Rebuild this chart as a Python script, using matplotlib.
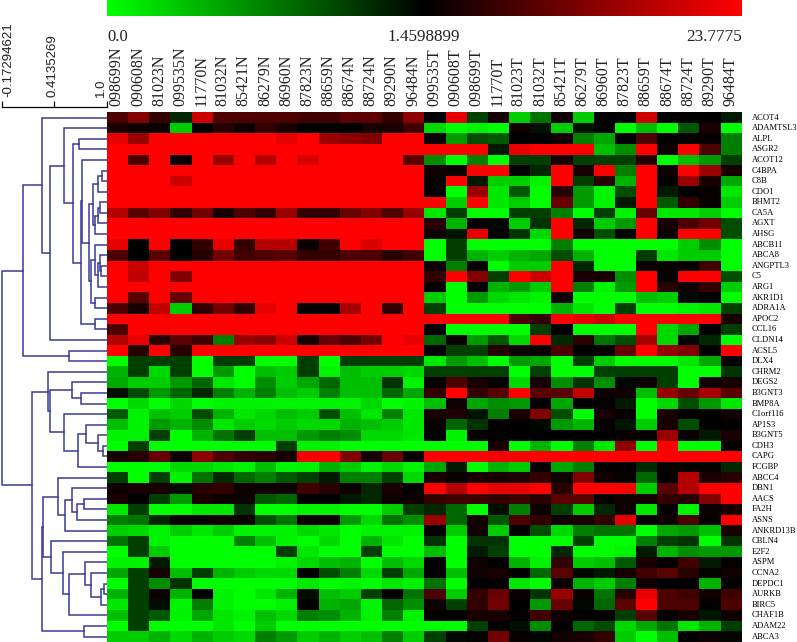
import numpy as np
import matplotlib
matplotlib.use('Agg')
import matplotlib.pyplot as plt
from matplotlib.colors import LinearSegmentedColormap

plt.rcParams['font.family'] = ['Liberation Serif', 'DejaVu Serif']

W, H = 797, 642

samples = ['098699N', '090608N', '81023N', '099535N', '11770N', '81032N', '85421N', '86279N',
           '86960N', '87823N', '88659N', '88674N', '88724N', '89290N', '96484N',
           '099535T', '090608T', '098699T', '11770T', '81023T', '81032T', '85421T', '86279T',
           '86960T', '87823T', '88659T', '88674T', '88724T', '89290T', '96484T']

genes = ['ACOT4', 'ADAMTSL3', 'ALPL', 'ASGR2', 'ACOT12', 'C4BPA', 'C8B', 'CDO1', 'BHMT2', 'CA5A',
         'AGXT', 'AHSG', 'ABCB11', 'ABCA8', 'ANGPTL3', 'C5', 'ARG1', 'AKR1D1', 'ADRA1A', 'APOC2',
         'CCL16', 'CLDN14', 'ACSL5', 'DLX4', 'CHRM2', 'DEGS2', 'B3GNT3', 'BMP8A', 'C1orf116', 'AP1S3',
         'B3GNT5', 'CDH3', 'CAPG', 'FCGBP', 'ABCC4', 'DBN1', 'AACS', 'FA2H', 'ASNS', 'ANKRD13B',
         'CBLN4', 'E2F2', 'ASPM', 'CCNA2', 'DEPDC1', 'AURKB', 'BIRC5', 'CHAF1B', 'ADAM22', 'ABCA3']

# estimated colour level of each cell: -10 full green, 0 black, +10 full red
normal = [
    [3, 5, 2, -1.5, 8, 3, 3, 3, 3, 2.5, 2.5, 3.5, 3.5, 2, 5.5],
    [1, .5, .5, -8, 0, 1.5, .5, 2, 1, 0, 0, 0, 1, 1, 2.5],
    [9, 6, 10, 10, 10, 10, 10, 10, 9, 10, 6, 5.5, 5, 10, 10],
    [10, 10, 10, 10, 10, 10, 10, 10, 10, 10, 10, 10, 10, 10, 10],
    [10, 3, 10, .5, 10, 6, 10, 7, 10, 8.5, 10, 10, 10, 10, 3.5],
    [10, 10, 10, 10, 10, 10, 10, 10, 10, 10, 10, 10, 10, 10, 10],
    [10, 10, 10, 8, 10, 10, 10, 10, 10, 10, 10, 10, 10, 10, 10],
    [10, 10, 10, 10, 10, 10, 10, 10, 10, 10, 10, 10, 10, 10, 10],
    [10, 10, 10, 10, 10, 10, 10, 10, 10, 10, 10, 10, 10, 10, 10],
    [7, 3.5, 5, 2, 4.5, 1, 3, 2, 6, 2, 2, 4, 5, 3, 6],
    [10, 10, 10, 10, 10, 10, 10, 10, 10, 10, 10, 10, 10, 10, 10],
    [10, 10, 10, 10, 10, 10, 10, 10, 10, 10, 10, 10, 10, 10, 10],
    [9, 0, 10, 0, 2, 9, 2, 7, 7, .5, 2.5, 10, 8.5, 10, 10],
    [3, 0, 3.5, 0, 1.5, 4.5, 2.5, 3, 3.5, 2, 2, 3, 3, 1.5, 2.5],
    [10, 8, 10, 10, 10, 10, 10, 10, 10, 10, 10, 10, 10, 10, 10],
    [10, 7.5, 10, 5, 10, 10, 10, 10, 10, 10, 10, 10, 10, 10, 10],
    [10, 10, 10, 10, 10, 10, 10, 10, 10, 10, 10, 10, 10, 10, 10],
    [10, 3.5, 10, 4, 10, 10, 10, 10, 10, 10, 10, 10, 10, 10, 10],
    [3, 1, 7.5, -8, 2, 4.5, 2, 9, 10, 0, 0, 6.5, 10, 2, 10],
    [10, 10, 10, 10, 10, 10, 10, 10, 10, 10, 10, 10, 10, 10, 10],
    [3, 10, 10, 10, 10, 10, 10, 10, 10, 10, 10, 10, 10, 10, 10],
    [7, 9, 1.5, 3.5, 2.5, -5, 6, 5.5, 8, 1, 4, 3, 4.5, 10, 9],
    [10, 1.5, 10, 1.5, 10, 10, 10, 10, 10, 10, 10, 10, 10, 10, 10],
    [-10, -2.5, -2.5, -2.5, -10, -2.5, -2.5, -10, -10, -2.5, -10, -2.5, -2.5, -2.5, -2.5],
    [-7, -2.5, -8.5, -2.5, -10, -6, -10, -7.5, -8, -2.5, -9.5, -7.5, -8, -8, -8.5],
    [-6.5, -8, -8, -6, -4, -9, -10, -5.5, -8, -6.5, -4, -7.5, -7.5, -2, -9.5],
    [-.5, -3, -6, -4, -1.5, -5, -7, -5, -7.5, -8, -5, -7.5, -7.5, -4, -6.5],
    [-10, -8.5, -10, -8.5, -10, -9.5, -9.5, -9.5, -9.5, -9.5, -9.5, -9.5, -8.5, -10, -9.5],
    [-3.5, -9.5, -7.5, -8, -3, -7, -9, -8.5, -7.5, -8, -3, -7.5, -9, -5, -9],
    [-7.5, -9.5, -6, -7, -5.5, -9, -8, -8.5, -8, -8.5, -8.5, -7, -7.5, -8, -9],
    [-9.5, -9.5, -2.5, -10, -7, -4.5, -2.5, -7.5, -7.5, -6, -5, -5.5, -8.5, -8.5, -9],
    [-10, -2.5, -10, -10, -10, -10, -10, -10, -2.5, -9.5, -9.5, -10, -10, -10, -10],
    [1, 1.5, 4, .5, 5.5, 3, 2, 1.5, 1, 9.5, 10, 5, 1, 4, .5],
    [-10, -10, -10, -8.5, -8.5, -9, -9.5, -7.5, -9.5, -9.5, -7, -8, -9.5, -8.5, -9.5],
    [-2.5, -10, -2.5, -9.5, -4.5, -1.5, -4, -5, -3.5, -2.5, -1, -5, -5, -2.5, -8.5],
    [.5, 1, 1, -.5, 1.5, 2, .5, .5, .5, 2.5, 1.5, .5, -1.5, 1, 0],
    [1, 0, -2.5, -6, 1, .5, .5, -3.5, -4, 0, 0, -1, -1.5, .5, .5],
    [-9, -2.5, -10, -10, -9, -9, -2, -10, -10, -9.5, -9.5, -10, -10, -8, -2.5],
    [-5, -4.5, -1.5, .5, .5, .5, .5, -3, -4.5, .5, .5, -6, -8.5, -4.5, -5.5],
    [-8, -8.5, -9.5, -8, -9, -8, -9.5, -9.5, -9.5, -8.5, -9, -10, -9.5, -9.5, -9.5],
    [-4.5, -2.5, -9.5, -10, -10, -10, -5, -7.5, -9.5, -10, -8.5, -10, -7, -9, -10],
    [-10, -2.5, -8, -10, -10, -10, -10, -10, -2.5, -9, -10, -10, -2.5, -10, -10],
    [-9.5, -9.5, -1, -10, -10, -10, -10, -10, -9.5, -8.5, -7.5, -7, -10, -7.5, -8.5],
    [-6.5, -2.5, 1, -7.5, -2.5, -7, -8, -8.5, -8.5, 0, -3, -5, -8.5, -2.5, -6.5],
    [-10, -2.5, -5.5, -2, -10, -10, -10, -10, -10, -9, -10, -9.5, -10, -9, -9.5],
    [-7, -2.5, .5, -7, 0, -9.5, -10, -9, -7, -.5, -7.5, -8, -2.5, 0, -4.5],
    [-9, -2.5, -.5, -9.5, -5, -9.5, -10, -10, -9.5, 0, -7, -6.5, -9.5, -4, -5.5],
    [-7.5, -2.5, -3.5, -9.5, -6.5, -9, -9.5, -7.5, -8.5, -5, -5.5, -7, -9.5, -5, -9.5],
    [-10, -2.5, -10, -10, -10, -9, -10, -8, -10, -10, -10, -10, -10, -10, -10],
    [-8, -8, -7, -8.5, -7, -8, -8.5, -5, -6, -8, -7, -8, -7.5, -5, -8],
]

tumor = [
    [0, 9, -2.5, 1, -8, -4.5, .5, -8, 0, 0, 8, 0, 0, 0, -1],
    [-8.5, -10, -9.5, -10, .7, -.7, -8, -.7, 0, -10, -7.5, -10, -3.5, 1, -10],
    [.5, -6, -3, -3.5, 0, 0, .7, -5, -6.5, 0, 3, 0, .3, .3, -5],
    [10, 10, 10, -1, 9, 10, 10, 10, -7.5, -5.5, 10, .7, 10, 3, -5],
    [-5.5, -10, -5, -10, -2.5, -2.5, 1, -2.5, -2.5, -2.5, 1.5, -10, -7.5, -6, -2.5],
    [.7, .5, 10, 10, 0, -1.5, 10, 1, 10, -5, 10, .7, 10, 6, 1],
    [.3, 10, -1, -8, -8, -9.5, 10, -2.5, 1.5, -7, 10, 0, 6, 1, -6.5],
    [0, -10, 6, -9, -3.5, -10, 1.5, -6, -9.5, -3, 10, -1, 0, .3, -9],
    [10, -8, 10, -9, -8, -10, 4, -6, -9.5, -1, 10, -3.5, 2, .3, -8],
    [-9, -2.5, -10, -10, -2.5, -2.5, -5, -10, -2.5, -9.5, 4, -9, -9, -8, -10],
    [1.5, -7, .3, -.3, -8, -2, 10, -1.5, -8, -6, 10, 1, 3, 4.5, -3],
    [.5, -.7, 9, 0, -2, -8.5, 10, .7, -3, 0, 10, .5, 10, 10, -3],
    [-10, -2.5, -10, -10, -10, -10, -5, -10, -10, -10, -10, -10, -8, -5.5, -10],
    [-10, -2.5, -7, -8, -7, -6.5, -3, -7, -10, -10, -2.5, -9, -8, -8, -10],
    [.5, -5, .3, -10, -8, -8, 10, -1.5, -10, -10, .3, .3, .2, 2.5, -10],
    [2, 10, 5, -2.5, 10, 8, 10, 1, 1, -5.5, 10, .2, 10, 10, -3],
    [0, -10, 0, -7, -6, -8, 10, -5, -9.5, -6, 10, 1.5, .7, 2, -8],
    [-8, -10, -6, -8.5, -9, -9.5, .7, -10, -10, -10, -7.5, -8, -.3, 0, -10],
    [-2.5, -10, -10, -10, -10, -10, -7, -9, -10, -2.5, -10, -10, -9.5, -9, -2.5],
    [10, 10, 10, 10, 3, 2, 10, 9, 8, 10, 10, 10, 10, 10, 1],
    [0, -10, -10, -10, -10, -2.5, 0, -10, -10, -10, 10, -8.5, -6.5, 0, -2.5],
    [-4, .3, -6, -3.5, -8.5, 10, -1.5, 1.5, -4.5, -3, 6.5, -8.5, -.3, -1.5, -10],
    [0, -2.5, -2.5, 1.5, .5, .2, 3, 0, 0, 4, 10, 6, 5, 0, 10],
    [-9, -6, -7.5, -10, -6, -6.5, -10, -2.5, -8, -10, -10, -10, -9, -6.5, .2],
    [-2.5, -2.5, -2.5, -2.5, -10, -2.5, -10, -10, -2.5, -2.5, -2.5, -2.5, -10, -10, -2],
    [.2, 3, 1, .2, -8.5, 1, -5.5, -2, -5.5, -.3, .5, -2.5, -10, .7, 1],
    [2, 10, 2, 3.5, 10, 3.5, 3.5, 7.5, .5, .7, -7.5, 6, 4, 6.5, 3.5],
    [-7.5, .5, -6.5, -5.5, -6, 0, -6.5, 0, .2, -1, -10, -8.5, -3, -6, -9],
    [1, 1.2, -.7, -5, 1, 5, -3, -10, 1, .3, -10, 1, 0, 0, .7],
    [.2, -4, -2, 0, 0, -.3, -6, -7, .2, -.8, -8, 1, -3, 0, .2],
    [0, -9.5, .2, 0, 0, 0, 0, 0, 0, .3, .3, 6, .5, -1, 1],
    [-10, -10, -10, 1, -10, -7, -10, -5, -9, 5.5, -10, 10, -10, -10, .2],
    [10, 10, 10, 9.5, 9.5, 10, 10, 10, 10, 10, 10, 10, 10, 10, 10],
    [-6.5, -1, -10, -7, -8, .3, -6.5, -5, 0, 0, -1.5, .3, .3, .2, -1.5],
    [1, .3, 1, 1, 1.2, 2, .7, 5, .7, .2, -4, 0, 7, 1, 1.5],
    [10, 7, 10, 9, 9, 10, 1.5, 10, 10, 10, -8, 3.5, 7, 10, 10],
    [2, 2.5, 2.5, 2, 2.5, 1.5, 3.5, 3.5, .2, .7, .7, 2, 1.5, 5, 10],
    [-1.5, -4, -10, -.5, -5, .5, -2.5, -8, -1.5, .5, -9, .2, -9.5, .5, 1],
    [6, -4, .7, -3.5, 3, 2, .7, 1, 2, 9, .3, .5, 3, .3, 10],
    [.1, -8, .7, -8, 0, -3, -8.5, -5, -4.5, -4.5, -10, -6.5, -6, -7.5, 1],
    [-2, -10, -2, -2, -10, -10, -10, -2.5, -10, -10, -5, -2.5, -2, -10, -2],
    [-7.5, -10, -1, -2.5, -10, -10, -1.5, -10, -10, -9.5, -1, -7, -5.5, -6, -6],
    [0, -10, .5, 0, -7, -9.5, 2, -8, -7.5, -3.5, 1, .2, 2.5, -1, .1],
    [0, -7.5, .7, 1, 0, -4, 3.5, -.3, -1, 1, 2.5, 3.5, 1.5, .2, .7],
    [-4.5, -10, 0, 0, -9, -10, .5, -7, -8, -5, .7, 0, 0, -7, .1],
    [3, -8, 2, 4, .2, -2, 6, .3, -4.5, 1.5, 9, 3, 2.5, .7, 2.5],
    [.5, -2.5, 2, 4.5, 0, -6, 4, -.3, -4, 3.5, 10, 3, 3, .2, 3],
    [.2, .2, 1, 1, .2, 2.5, .5, .1, 0, -2.5, 3.5, .3, 1, -.8, .7],
    [-10, -10, -2.5, 0, -.5, -5.5, 0, -4, -3, -8.5, -6.5, -4.5, -9, -7, -2.5],
    [-2.5, -.3, .1, 4.5, .3, -.2, .7, 1, 2, -8, -10, -7.5, 0, .5, -.2],
]

# gene tree: (similarity, child, child), an int child is a row of the heatmap
upper_tree = (0.066,
              (0.2727, 0,
               (0.3659,
                (0.5264, 1,
                 (0.6207, (0.6835, 2, 3),
                  (0.7083,
                   (0.7195, 4,
                    (0.7958,
                     (0.8407,
                      (0.8968, (0.9462, 5, 6), 7),
                      (0.871, (0.899, (0.9193, 8, 9), 10), 11)),
                     (0.8227,
                      (0.8632, 12, (0.8968, (0.9193, 13, (0.935, 14, 15)), 16)),
                      (0.871, 17, 18)))),
                   (0.8632, 19, 20)))),
                21)),
              (0.579, 22, 23))

lower_tree = (0.1605,
              (0.3401, 24,
               (0.3625,
                (0.6095, 25, (0.706, 26, 27)),
                (0.5264, 28,
                 (0.6724,
                  (0.7666, 29, (0.9013, 30, (0.9575, 31, 32))),
                  33)))),
              (0.2795,
               (0.283,
                (0.459, 34,
                 (0.531,
                  (0.6129, 35, (0.661, (0.744, 36, 37), 38)),
                  39)),
                (0.3738, 40,
                 (0.5152, 41,
                  (0.579,
                   (0.7588, 42, (0.826, 43, (0.935, (0.964, 44, 45), 46))),
                   47)))),
               (0.744, 48, 49)))

root_similarity = -0.17294621
scale_ticks = [-0.17294621, 0.4135269, 1.0]
scale_labels = ['-0.17294621', '0.4135269', '1.0']
bar_labels = ['0.0', '1.4598899', '23.7775']

tree_color = '#3a3a96'
green_black_red = LinearSegmentedColormap.from_list('gbr', ['#00ff00', '#000000', '#ff0000'])


def px_axes(left, top, right, bottom):
    # axes from pixel positions, y counted from the top of the picture
    return fig.add_axes([left / W, 1 - bottom / H, (right - left) / W, (bottom - top) / H])


def px_text(x, y, s, **kw):
    return fig.text(x / W, 1 - y / H, s, **kw)


def draw_node(ax, node):
    # returns the row position of a node and its similarity
    if isinstance(node, int):
        return node + 0.5, 1.0
    sim, first, second = node
    y1, s1 = draw_node(ax, first)
    y2, s2 = draw_node(ax, second)
    ax.plot([s1, sim, sim, s2], [y1, y1, y2, y2], color=tree_color, lw=1.1, solid_joinstyle='miter')
    return (y1 + y2) / 2, sim


fig = plt.figure(figsize=(W / 100, H / 100), dpi=100, facecolor='white')

# heatmap
matrix = np.hstack([np.array(normal), np.array(tumor)])
ax = px_axes(107, 112.3, 741.8, 641.8)
ax.pcolormesh(matrix[::-1], cmap=green_black_red, vmin=-10, vmax=10)
ax.axis('off')

# colour bar on top
ax_bar = px_axes(107, 0, 741.8, 16)
ax_bar.imshow(np.linspace(-10, 10, 512).reshape(1, -1), cmap=green_black_red, aspect='auto', vmin=-10, vmax=10)
ax_bar.axis('off')

px_text(107, 37, bar_labels[0], fontsize=12, ha='left', va='center', color='#222222')
px_text(388, 37, bar_labels[1], fontsize=12.3, ha='left', va='center', color='#222222')
px_text(741.8, 37, bar_labels[2], fontsize=12.3, ha='right', va='center', color='#222222')

# column and row labels
col_w = (741.8 - 107) / len(samples)
for i, name in enumerate(samples):
    px_text(107 + col_w * (i + 0.5) - 0.8, 106, name, rotation=90, fontsize=11.5, ha='center', va='bottom', color='#222222')

row_h = (641.8 - 112.3) / len(genes)
for i, name in enumerate(genes):
    px_text(752, 112.3 + row_h * (i + 0.5), name, fontsize=6.1, ha='left', va='center', color='#000000')

# dendrogram
ax_tree = px_axes(2, 112.3, 106.8, 641.8)
y_up, s_up = draw_node(ax_tree, upper_tree)
y_low, s_low = draw_node(ax_tree, lower_tree)
ax_tree.plot([s_up, root_similarity, root_similarity, s_low], [y_up, y_up, y_low, y_low],
             color=tree_color, lw=1.1, clip_on=False)
ax_tree.set_xlim(root_similarity, 1.0)
ax_tree.set_ylim(len(genes), 0)
ax_tree.axis('off')

# similarity scale
ax_scale = px_axes(2, 100, 106.8, 107)
ax_scale.set_xlim(root_similarity, 1.0)
ax_scale.set_yticks([])
ax_scale.set_xticks(scale_ticks)
ax_scale.set_xticklabels([])
ax_scale.tick_params(axis='x', direction='in', length=4.5, width=0.9, color='#111111')
for side in ['top', 'left', 'right']:
    ax_scale.spines[side].set_visible(False)
ax_scale.spines['bottom'].set_linewidth(0.9)
ax_scale.patch.set_alpha(0)

for x, label in zip([8.5, 53, 101], scale_labels):
    px_text(x, 97, label, rotation=90, fontsize=9.5, ha='center', va='bottom', family='Liberation Sans', color='#222222')

plt.savefig('out.png', dpi=100)
